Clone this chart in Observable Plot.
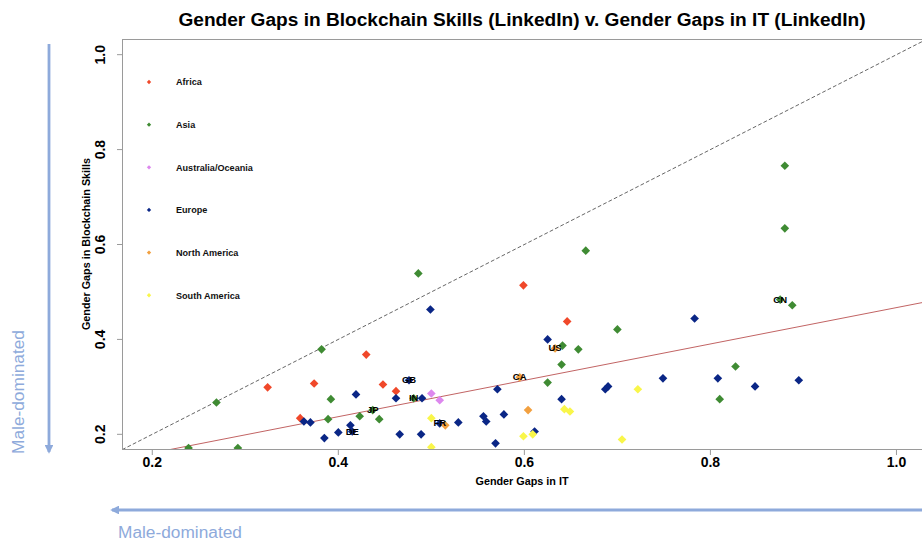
<!DOCTYPE html>
<html>
<head>
<meta charset="utf-8">
<script src="https://cdn.jsdelivr.net/npm/d3@7"></script>
<script src="https://cdn.jsdelivr.net/npm/@observablehq/plot@0.6"></script>
<style>
  html, body { margin: 0; padding: 0; background: #fff; }
  body { width: 922px; height: 542px; overflow: hidden; position: relative; font-family: "Liberation Sans", Arial, sans-serif; }
  #chart { position: absolute; left: 0; top: 0; }
  #overlay { position: absolute; left: 0; top: 0; pointer-events: none; }
</style>
</head>
<body>
<div id="chart"></div>
<svg id="overlay" width="922" height="542"></svg>
<script>
// ---------- DATA ----------
const titleText = "Gender Gaps in Blockchain Skills (LinkedIn) v. Gender Gaps in IT (LinkedIn)";
const xLabel = "Gender Gaps in IT";
const yLabel = "Gender Gaps in Blockchain Skills";
const arrowText = "Male-dominated";

const regions = ["Africa", "Asia", "Australia/Oceania", "Europe", "North America", "South America"];
const regionColors = ["#f0482a", "#3f8b33", "#dd88ee", "#0a2686", "#f2a040", "#f9f64a"];

const xTicks = [0.2, 0.4, 0.6, 0.8, 1.0];
const yTicks = [0.2, 0.4, 0.6, 0.8, 1.0];
const xDomain = [0.168, 1.028];
const yDomain = [0.168, 1.032];

// regression (fitted) line: intercept, slope
const trendIntercept = 0.084;
const trendSlope = 0.383;

// [gap in IT, gap in blockchain skills, country code label]
const africa = [
  [0.324, 0.299], [0.374, 0.307], [0.430, 0.368], [0.448, 0.305],
  [0.462, 0.291], [0.359, 0.234], [0.599, 0.514], [0.646, 0.438]
];
const asia = [
  [0.269, 0.267], [0.382, 0.379], [0.392, 0.274], [0.389, 0.232],
  [0.423, 0.238], [0.444, 0.232], [0.437, 0.251, "JP"], [0.481, 0.276, "IN"],
  [0.239, 0.171], [0.292, 0.171], [0.486, 0.539], [0.666, 0.587],
  [0.700, 0.421], [0.641, 0.387], [0.658, 0.379], [0.640, 0.347],
  [0.625, 0.309], [0.880, 0.766], [0.880, 0.634], [0.875, 0.484, "CN"],
  [0.888, 0.472], [0.827, 0.343], [0.810, 0.274]
];
const oceania = [
  [0.500, 0.286], [0.509, 0.272]
];
const europe = [
  [0.419, 0.284], [0.462, 0.276], [0.363, 0.227], [0.370, 0.225],
  [0.413, 0.219], [0.415, 0.206, "DE"], [0.400, 0.204], [0.385, 0.192],
  [0.466, 0.200], [0.489, 0.200], [0.476, 0.314, "GB"], [0.490, 0.276],
  [0.499, 0.463], [0.625, 0.400], [0.571, 0.295], [0.509, 0.223, "FR"],
  [0.529, 0.225], [0.556, 0.238], [0.559, 0.227], [0.578, 0.242],
  [0.611, 0.206], [0.569, 0.181], [0.640, 0.274], [0.687, 0.295],
  [0.690, 0.301], [0.783, 0.444], [0.749, 0.318], [0.808, 0.318],
  [0.848, 0.301], [0.895, 0.314]
];
const northAmerica = [
  [0.633, 0.381, "US"], [0.595, 0.320, "CA"], [0.515, 0.219], [0.604, 0.251]
];
const southAmerica = [
  [0.500, 0.234], [0.500, 0.173], [0.599, 0.196], [0.609, 0.200],
  [0.643, 0.253], [0.649, 0.248], [0.722, 0.295], [0.705, 0.189]
];

// ---------- BUILD TABLE ----------
const seriesList = [africa, asia, oceania, europe, northAmerica, southAmerica];
const points = [];
seriesList.forEach((arr, i) => {
  arr.forEach(([it, bc, code]) => points.push({region: regions[i], it, bc, code: code || ""}));
});
const labelled = points.filter(d => d.code);
const trend = xDomain.map(x => ({x, y: trendIntercept + trendSlope * x}));
const diag = xDomain.map(v => ({x: v, y: v}));

const FONT = "'Liberation Sans', Arial, Helvetica, sans-serif";
const frameColor = "#9a9a9a";

const chart = Plot.plot({
  width: 922,
  height: 542,
  marginLeft: 122,
  marginRight: 0,
  marginTop: 39,
  marginBottom: 93,
  style: {fontFamily: FONT, background: "transparent", color: "#000", overflow: "visible"},
  x: {domain: xDomain},
  y: {domain: yDomain},
  color: {domain: regions, range: regionColors},
  marks: [
    // box (top, left, bottom)
    Plot.ruleY([yDomain[1]], {stroke: frameColor, strokeWidth: 1}),
    Plot.ruleY([yDomain[0]], {stroke: frameColor, strokeWidth: 1}),
    Plot.ruleX([xDomain[0]], {stroke: frameColor, strokeWidth: 1}),
    Plot.axisX({ticks: xTicks, tickFormat: d3.format(".1f"), tickSize: 6, tickPadding: 2,
      stroke: frameColor, fontSize: 14, fontWeight: "bold", fill: "#000", label: null}),
    Plot.axisY({ticks: yTicks, tickSize: 5, tickFormat: () => "", stroke: frameColor, label: null}),
    Plot.text(yTicks, {y: d => d, frameAnchor: "left", text: d => d3.format(".1f")(d),
      rotate: -90, dx: -22, textAnchor: "middle", lineAnchor: "middle",
      fontSize: 14, fontWeight: "bold", fill: "#000"}),
    // y = x reference
    Plot.line(diag, {x: "x", y: "y", stroke: "#555", strokeWidth: 0.9, strokeDasharray: "3,3", clip: true}),
    // fitted line
    Plot.line(trend, {x: "x", y: "y", stroke: "#c26464", strokeWidth: 1, clip: true}),
    // points
    Plot.dot(points, {x: "it", y: "bc", fill: "region", symbol: "diamond2", r: 3.9, stroke: "none", clip: true}),
    // country labels
    Plot.text(labelled, {x: "it", y: "bc", text: "code", fontSize: 9.5, fontWeight: "bold", fill: "#000"})
  ]
});
document.getElementById("chart").appendChild(chart);

// ---------- OVERLAY: title, axis titles, legend, arrows ----------
const ov = d3.select("#overlay");
const arrowColor = "#8eaadb";

ov.append("text").attr("x", 522).attr("y", 26).attr("text-anchor", "middle")
  .style("font-family", FONT).style("font-size", "19.1px").style("font-weight", "bold").attr("fill", "#000")
  .text(titleText);

ov.append("text").attr("x", 522).attr("y", 485).attr("text-anchor", "middle")
  .style("font-family", FONT).style("font-size", "10.8px").style("font-weight", "bold").attr("fill", "#000")
  .text(xLabel);

ov.append("text").attr("transform", "translate(90,244) rotate(-90)").attr("text-anchor", "middle")
  .style("font-family", FONT).style("font-size", "10.8px").style("font-weight", "bold").attr("fill", "#000")
  .text(yLabel);

// legend
const lg = ov.append("g");
regions.forEach((r, i) => {
  const y = 82 + i * 42.65;
  lg.append("path").attr("d", d3.symbol(d3.symbolDiamond2, 12)()).attr("transform", `translate(149,${y})`)
    .attr("fill", regionColors[i]);
  lg.append("text").attr("x", 176).attr("y", y + 3.3)
    .style("font-family", FONT).style("font-size", "9.1px").style("font-weight", "bold").attr("fill", "#111")
    .text(r);
});

// arrows
const defs = ov.append("defs");
defs.append("marker").attr("id", "ah").attr("viewBox", "0 0 10 10").attr("refX", 8).attr("refY", 5)
  .attr("markerWidth", 3.2).attr("markerHeight", 3.2).attr("orient", "auto-start-reverse")
  .append("path").attr("d", "M0,0 L10,5 L0,10 z").attr("fill", arrowColor);

ov.append("line").attr("x1", 49).attr("y1", 44).attr("x2", 49).attr("y2", 452)
  .attr("stroke", arrowColor).attr("stroke-width", 2.8).attr("marker-end", "url(#ah)");
ov.append("line").attr("x1", 924).attr("y1", 510).attr("x2", 112).attr("y2", 510)
  .attr("stroke", arrowColor).attr("stroke-width", 2.8).attr("marker-end", "url(#ah)");

ov.append("text").attr("transform", "translate(24,392) rotate(-90)").attr("text-anchor", "middle")
  .style("font-family", FONT).style("font-size", "17.3px").attr("fill", arrowColor)
  .text(arrowText);
ov.append("text").attr("x", 118).attr("y", 538)
  .style("font-family", FONT).style("font-size", "17.3px").attr("fill", arrowColor)
  .text(arrowText);
</script>
</body>
</html>
